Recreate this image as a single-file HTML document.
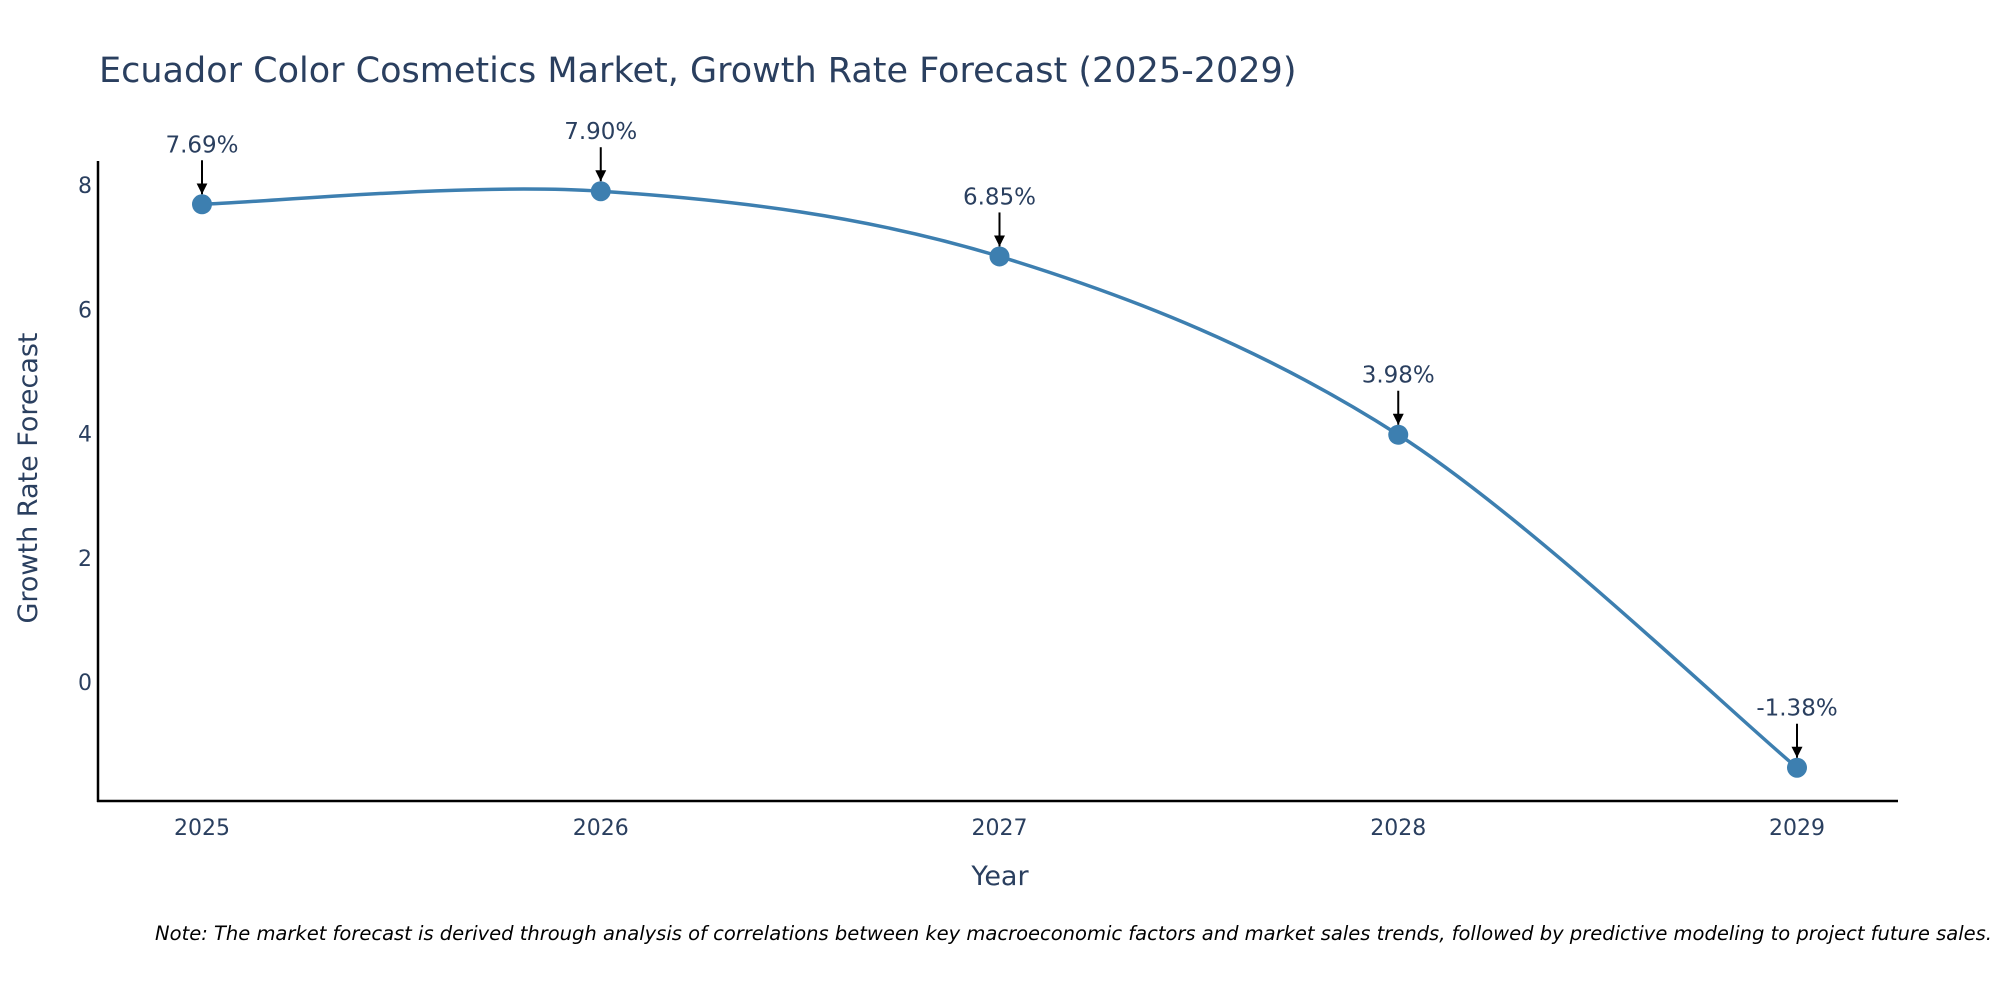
<!DOCTYPE html>
<html><head><meta charset="utf-8">
<style>
html,body{margin:0;padding:0;background:#fff;}
svg{display:block;font-family:"DejaVu Sans","Liberation Sans",sans-serif;}
</style></head>
<body>
<svg id="chart" width="2000" height="1000" viewBox="0 0 2000 1000">
<defs>
<marker id="ah" viewBox="0 0 10 10" refX="10" refY="5" markerWidth="11" markerHeight="11" markerUnits="userSpaceOnUse" orient="auto">
<path d="M0,0 L10,5 L0,10 Z" fill="#000"/>
</marker>
</defs>
<text x="99" y="82" font-size="35" fill="#2a3f5f">Ecuador Color Cosmetics Market, Growth Rate Forecast (2025-2029)</text>
<g id="yticks"></g>
<g id="xticks"></g>
<line x1="98" y1="161" x2="98" y2="802" stroke="#000" stroke-width="2.5"/>
<line x1="97" y1="801" x2="1898" y2="801" stroke="#000" stroke-width="2.5"/>
<path id="line" fill="none" stroke="#3d7fb0" stroke-width="3.5"/>
<g id="points"></g>
<g id="annots"></g>
<text x="28" y="478" font-size="27" fill="#2a3f5f" text-anchor="middle" transform="rotate(-90 28 478)" dy="9">Growth Rate Forecast</text>
<text x="1000" y="885" font-size="27" fill="#2a3f5f" text-anchor="middle">Year</text>
<text x="1992" y="940" font-size="19.5" font-style="italic" fill="#000" text-anchor="end">Note: The market forecast is derived through analysis of correlations between key macroeconomic factors and market sales trends, followed by predictive modeling to project future sales.</text>
</svg>
<script>
const years = [2025, 2026, 2027, 2028, 2029];
const values = [7.69, 7.90, 6.85, 3.98, -1.38];
const labels = ["7.69%", "7.90%", "6.85%", "3.98%", "-1.38%"];
const yTickValues = [0, 2, 4, 6, 8];

const NS = "http://www.w3.org/2000/svg";
function xs(yr){ return 202 + (yr - 2025) * (1797 - 202) / 4; }
function ys(v){ return 682 - v * (682 - 185) / 8; }
function mk(tag, attrs, parent){ const e = document.createElementNS(NS, tag); for (const k in attrs) e.setAttribute(k, attrs[k]); parent.appendChild(e); return e; }

const yt = document.getElementById('yticks');
yTickValues.forEach(v => {
  const t = mk('text', {x: 92, y: ys(v) + 8, 'font-size': 22, fill: '#2a3f5f', 'text-anchor': 'end'}, yt);
  
  
  t.textContent = v;
});
const xt = document.getElementById('xticks');
years.forEach(yr => {
  const t = mk('text', {x: xs(yr), y: 835, 'font-size': 22, fill: '#2a3f5f', 'text-anchor': 'middle'}, xt);
  
  
  t.textContent = yr;
});

const pts = years.map((yr, i) => [xs(yr), ys(values[i])]);
let d = 'M' + pts[0][0] + ',' + pts[0][1];
const s = 0.5;
for (let i = 0; i < pts.length - 1; i++) {
  const p0 = pts[Math.max(0, i - 1)], p1 = pts[i], p2 = pts[i + 1], p3 = pts[Math.min(pts.length - 1, i + 2)];
  const c1 = [p1[0] + (p2[0] - p0[0]) * s / 3, p1[1] + (p2[1] - p0[1]) * s / 3];
  const c2 = [p2[0] - (p3[0] - p1[0]) * s / 3, p2[1] - (p3[1] - p1[1]) * s / 3];
  d += ' C' + c1.join(',') + ' ' + c2.join(',') + ' ' + p2.join(',');
}
document.getElementById('line').setAttribute('d', d);

const pg = document.getElementById('points');
const ag = document.getElementById('annots');
pts.forEach((p, i) => {
  const c = mk('circle', {cx: p[0], cy: p[1], r: 10, fill: '#3d7fb0'}, pg);
  
  
  const a = mk('line', {x1: p[0], y1: p[1] - 44, x2: p[0], y2: p[1] - 10, stroke: '#000', 'stroke-width': 2, 'marker-end': 'url(#ah)'}, ag);
  
  
  const t = mk('text', {x: p[0], y: p[1] - 52, 'font-size': 23, fill: '#2a3f5f', 'text-anchor': 'middle'}, ag);
  
  
  t.textContent = labels[i];
});
</script>
</body></html>
